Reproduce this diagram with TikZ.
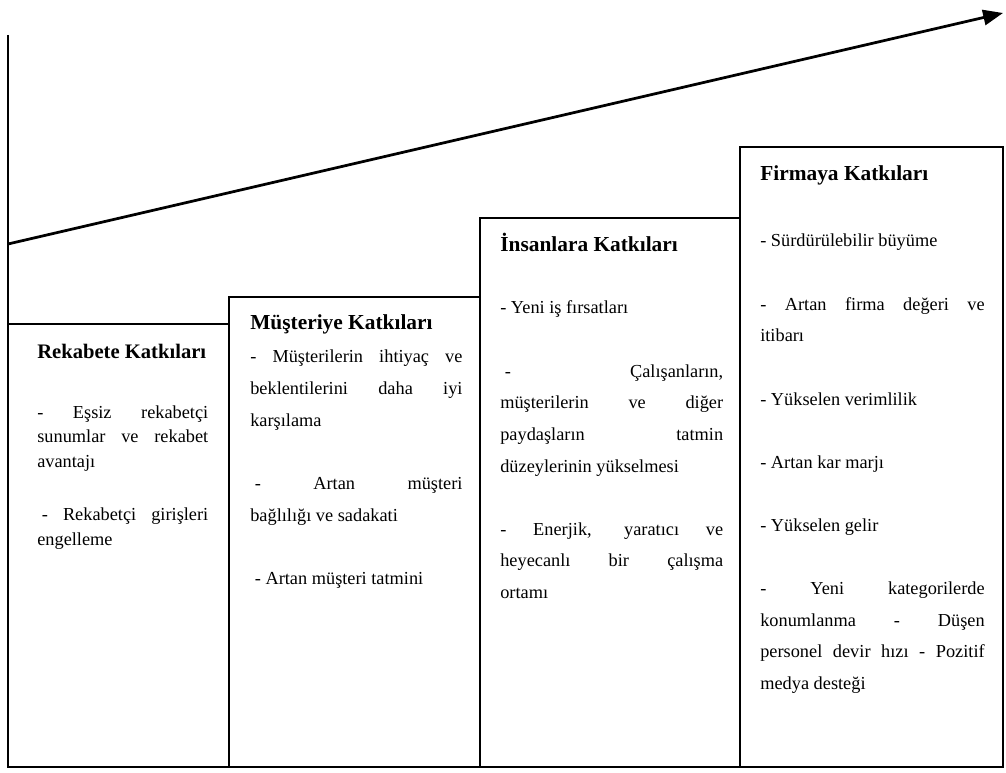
\documentclass[tikz,border=0pt]{standalone}
\usepackage{fontspec}
\setmainfont{Liberation Serif}
\usetikzlibrary{arrows.meta}

\begin{document}
\begin{tikzpicture}[
    x=0.655pt, y=-0.655pt,
    every node/.style={inner sep=0pt, font=\fontsize{12}{20.7}\selectfont},
    boxline/.style={line width=1.2pt},
    axisline/.style={line width=1.3pt},
    titletext/.style={anchor=base west, font=\fontsize{14}{20.7}\selectfont\bfseries},
    itemtext/.style={anchor=base west, text width=#1, align=justify,
        execute at begin node={\tolerance=10000\hyphenpenalty=10000}},
]

\definecolor{ink}{HTML}{000000}

\def\base{767}   % bottom line, px
\def\gap{\par\vspace{20.7pt}} % one empty line between items

\useasboundingbox (0,0) rectangle (1006,773);

% ================================================================
%   four steps, left to right, each one higher than the last
%   left/right/top of every box in px of the original figure
% ================================================================
\foreach \l/\r/\t in {8/229/324, 229/480/297, 480/740/218, 740/1003/147} {
    \draw[boxline, ink] (\l,\base) rectangle (\r,\t);
}

% ---------------------------------------------------------------- axes
\coordinate (origin) at (8,\base);
\coordinate (ytop) at (8,35);
\coordinate (xend) at (1004,\base);
\draw[axisline, ink] (ytop) -- (origin) -- (xend);

\coordinate (start) at (8,244);
\coordinate (tip) at (1003,13);
\draw[-{Triangle[length=13pt, width=10pt]}, line width=1.8pt, ink] (start) -- (tip);

% ---------------------------------------------------------------- Rekabete
\node[titletext, font=\fontsize{13.5}{20.7}\selectfont\bfseries] (t-rekabet) at (37,359)
    {Rekabete Katkıları};
\node[itemtext=112pt, font=\fontsize{12}{16.3}\selectfont] (b-rekabet) at (37,418)
    {- Eşsiz rekabetçi\linebreak sunumlar ve rekabet\linebreak avantajı\par\vspace{18.2pt}
     \hspace*{3pt}- Rekabetçi girişleri\linebreak engelleme};

% ---------------------------------------------------------------- Müşteriye
\node[titletext] (t-musteri) at (250,330) {Müşteriye Katkıları};
\node[itemtext=139pt] (b-musteri) at (250,363)
    {- Müşterilerin ihtiyaç ve\linebreak beklentilerini daha iyi\linebreak karşılama\gap
     \hspace*{3pt}- Artan müşteri\linebreak bağlılığı ve sadakati\gap
     \hspace*{3pt}- Artan müşteri tatmini};

% ---------------------------------------------------------------- İnsanlara
\node[titletext] (t-insan) at (500,252) {İnsanlara Katkıları};
\node[itemtext=146pt] (b-insan) at (500,314)
    {- Yeni iş fırsatları\gap
     \hspace*{3pt}- Çalışanların,\linebreak müşterilerin ve diğer\linebreak paydaşların tatmin\linebreak düzeylerinin yükselmesi\gap
     - Enerjik, yaratıcı ve\linebreak heyecanlı bir çalışma\linebreak ortamı};

% ---------------------------------------------------------------- Firmaya
\node[titletext] (t-firma) at (760,181) {Firmaya Katkıları};
\node[itemtext=147pt] (b-firma) at (760,247)
    {- Sürdürülebilir büyüme\gap
     - Artan firma değeri ve\linebreak itibarı\gap
     - Yükselen verimlilik\gap
     - Artan kar marjı\gap
     - Yükselen gelir\gap
     - Yeni kategorilerde\linebreak konumlanma - Düşen\linebreak personel devir hızı - Pozitif\linebreak medya desteği};

\end{tikzpicture}
\end{document}
